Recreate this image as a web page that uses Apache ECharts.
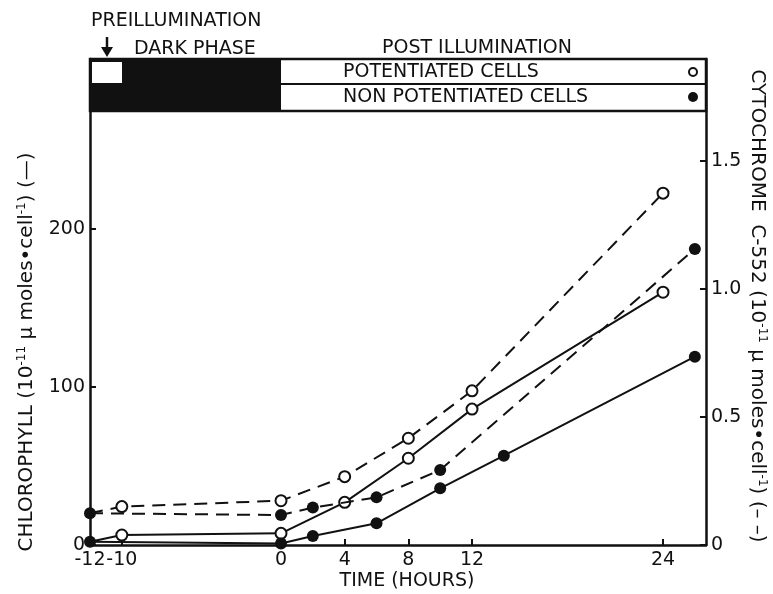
<!DOCTYPE html>
<html>
<head>
<meta charset="utf-8">
<script src="https://cdn.jsdelivr.net/npm/echarts@6/dist/echarts.min.js"></script>
<style>
html, body { margin: 0; background: #fff; }
#chart { width: 773px; height: 594px; }
</style>
</head>
<body>
<div id="chart"></div>
<script>
// tick labels
const xTicks = [-12, -10, 0, 4, 8, 12, 24]
const chlTicks = [0, 100, 200]
const cytTicks = [0, 0.5, 1.0, 1.5]

// chlorophyll (solid lines, left axis)
const chlPotX = [-12, -10, 0, 4, 8, 12, 24]
const chlPotY = [2, 6.3, 7.4, 27, 54.9, 86, 160]
const chlNonX = [-12, 0, 2, 6, 10, 14, 26]
const chlNonY = [2, 1, 5.7, 13.7, 35.9, 56.5, 119.2]

// cytochrome c-552 (dashed lines, right axis)
const cytPotX = [-12, -10, 0, 4, 8, 12, 24]
const cytPotY = [0.124, 0.150, 0.173, 0.267, 0.417, 0.602, 1.374]
const cytNonX = [-12, 0, 2, 6, 10, 26]
const cytNonY = [0.124, 0.117, 0.146, 0.186, 0.293, 1.156]

const pairs = (xs, ys) => xs.map((x, i) => [x, ys[i]])

const font = '"DejaVu Sans", "Liberation Sans", sans-serif'
const ink = '#111'

const openDot = { color: '#fff', borderColor: ink, borderWidth: 2 }
const fullDot = { color: ink, borderColor: ink, borderWidth: 0 }

let chart = echarts.init(document.getElementById('chart'))

let axisCommon = {
    axisLine: { show: true, onZero: false, lineStyle: { color: ink, width: 2.5 } },
    axisTick: { show: true, inside: true, length: 6, lineStyle: { color: ink, width: 2 } },
    splitLine: { show: false },
}

// first point of the potentiated series is hidden under the shared filled dot
const potData = (xs, ys) => pairs(xs, ys).map((p, i) => i === 0 ? { value: p, symbolSize: 0 } : p)

let option = {
    animation: false,
    backgroundColor: '#fff',
    grid: { left: 90, right: 67, top: 59, bottom: 49 },
    xAxis: {
        type: 'value',
        min: -12,
        max: 26.7,
        ...axisCommon,
        axisTick: { ...axisCommon.axisTick, customValues: xTicks },
        axisLabel: { customValues: xTicks, color: ink, fontFamily: font, fontSize: 19, margin: 6 },
    },
    yAxis: [
        {
            type: 'value',
            min: 0,
            max: 307.6,
            position: 'left',
            ...axisCommon,
            axisTick: { ...axisCommon.axisTick, customValues: chlTicks },
            axisLabel: { customValues: chlTicks, color: ink, fontFamily: font, fontSize: 19, margin: 5 },
        },
        {
            type: 'value',
            min: 0,
            max: 1.898,
            position: 'right',
            ...axisCommon,
            axisTick: { ...axisCommon.axisTick, customValues: cytTicks },
            axisLabel: {
                customValues: cytTicks, color: ink, fontFamily: font, fontSize: 19, margin: 5,
                formatter: (v) => v === 0 ? '0' : v.toFixed(1),
            },
        },
    ],
    series: [
        {
            name: 'chl potentiated', type: 'line', yAxisIndex: 0,
            data: potData(chlPotX, chlPotY),
            symbol: 'circle', symbolSize: 11, itemStyle: openDot,
            lineStyle: { color: ink, width: 2 }, z: 3,
        },
        {
            name: 'chl non potentiated', type: 'line', yAxisIndex: 0,
            data: pairs(chlNonX, chlNonY),
            symbol: 'circle', symbolSize: 12, itemStyle: fullDot,
            lineStyle: { color: ink, width: 2 }, z: 4,
        },
        {
            name: 'cyt potentiated', type: 'line', yAxisIndex: 1,
            data: potData(cytPotX, cytPotY),
            symbol: 'circle', symbolSize: 11, itemStyle: openDot,
            lineStyle: { color: ink, width: 2, type: [13, 8] }, z: 3,
        },
        {
            name: 'cyt non potentiated', type: 'line', yAxisIndex: 1,
            data: pairs(cytNonX, cytNonY),
            symbol: 'circle', symbolSize: 12, itemStyle: fullDot,
            lineStyle: { color: ink, width: 2, type: [13, 8] }, z: 4,
        },
    ],
}
chart.setOption(option)

// banner across the top of the frame + titles
let x0 = chart.convertToPixel({ xAxisIndex: 0 }, 0)
let xL = chart.convertToPixel({ xAxisIndex: 0 }, -12)
let xR = chart.getWidth() - 67
let bTop = 59, bMid = 84, bLow = 111
let sup = { fontSize: 12, fontFamily: font, verticalAlign: 'top', lineHeight: 22 }
let txt = (text, x, y, extra) => ({
    type: 'text', x: x, y: y, z: 10,
    style: Object.assign({ text: text, font: '19px ' + font, fill: ink, verticalAlign: 'middle' }, extra || {}),
})

chart.setOption({
    graphic: [
        { type: 'rect', z: 5, shape: { x: xL, y: bTop, width: xR - xL, height: bLow - bTop }, style: { fill: '#fff', stroke: ink, lineWidth: 2.5 } },
        { type: 'rect', z: 6, shape: { x: xL, y: bTop, width: x0 - xL, height: bLow - bTop }, style: { fill: ink } },
        { type: 'rect', z: 7, shape: { x: xL + 2, y: bTop + 3, width: 30, height: bMid - bTop - 4 }, style: { fill: '#fff' } },
        { type: 'line', z: 7, shape: { x1: x0, y1: bMid, x2: xR, y2: bMid }, style: { stroke: ink, lineWidth: 2 } },
        txt('POTENTIATED CELLS', 343, 72),
        txt('NON POTENTIATED CELLS', 343, 97),
        { type: 'circle', z: 10, shape: { cx: 693, cy: 72, r: 4 }, style: { fill: '#fff', stroke: ink, lineWidth: 2 } },
        { type: 'circle', z: 10, shape: { cx: 693, cy: 97, r: 5 }, style: { fill: ink } },
        txt('PREILLUMINATION', 91, 21),
        txt('DARK PHASE', 134, 49),
        txt('POST ILLUMINATION', 382, 48),
        { type: 'line', z: 10, shape: { x1: 107, y1: 37, x2: 107, y2: 50 }, style: { stroke: ink, lineWidth: 2.5 } },
        { type: 'polygon', z: 10, shape: { points: [[101, 47], [113, 47], [107, 57]] }, style: { fill: ink } },
        txt('TIME (HOURS)', 407, 581, { align: 'center' }),
        {
            type: 'text', x: 27, y: 352, rotation: Math.PI / 2, z: 10,
            style: {
                text: 'CHLOROPHYLL (10{s|-11} μ moles•cell{s|-1}) (—)',
                font: '20px ' + font, fill: ink, align: 'center', verticalAlign: 'middle',
                rich: { s: sup },
            },
        },
        {
            type: 'text', x: 757, y: 306, rotation: -Math.PI / 2, z: 10,
            style: {
                text: 'CYTOCHROME  C-552 (10{s|-11} μ moles•cell{s|-1}) (– –)',
                font: '20px ' + font, fill: ink, align: 'center', verticalAlign: 'middle',
                rich: { s: sup },
            },
        },
    ],
})

window.addEventListener('resize', function () {
    chart.resize()
})
</script>
</body>
</html>
